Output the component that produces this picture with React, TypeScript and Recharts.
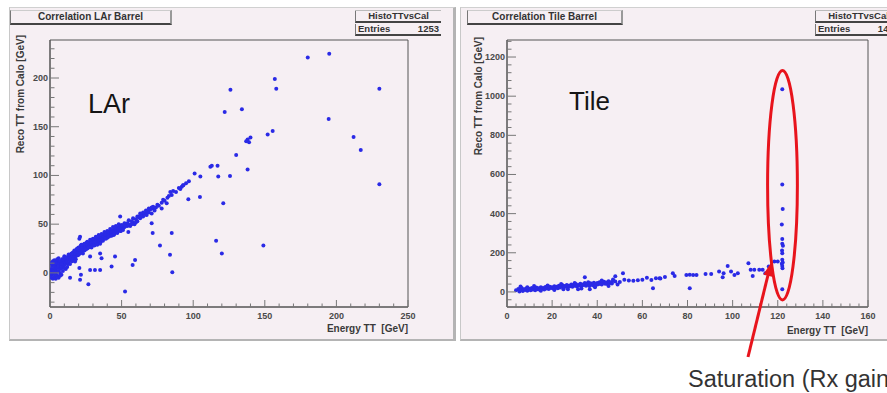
import React from 'react';
import { ScatterChart, Scatter, XAxis, YAxis, ReferenceArea, ReferenceDot } from 'recharts';

// LAr barrel: [Energy TT, Reco TT from Calo] in GeV
const larBand: [number, number][] = [
  [0.5, 1], [1, 4], [1, -2], [1, -5], [1.5, 7], [2, 0], [2, 3], [2, -6], [2.5, 9], [3, -4], [3, 2], [3, 5], [3, 13],
  [3.5, 11], [4, -1], [4, 3], [4, 7], [4, -6], [4.5, 1], [5, 5], [5, 9], [5, -3], [5.5, 12], [6, 2], [6, 6], [6, -5],
  [6.5, 9], [7, 4], [7, 0], [7.5, 8], [8, 11], [8, 5], [8, -2], [8.5, 14], [9, 7], [9, 2], [9.5, 10], [10, 12], [10, 8],
  [10.5, 15], [11, 10], [11, 4], [11.5, 13], [12, 16], [12, 11], [12.5, 9], [13, 14], [13.5, 17], [14, 13], [14, 16],
  [14.5, 19], [15, 15], [15.5, 12], [16, 18], [16, 21], [16.5, 16], [17, 19], [17.5, 22], [18, 17], [18, 20],
  [18.5, 24], [19, 21], [19.5, 18], [20, 23], [20, 26], [20.5, 21], [21, 24], [21.5, 28], [22, 22], [22, 25],
  [22.5, 27], [23, 24], [23.5, 29], [24, 26], [24, 23], [24.5, 28], [25, 27], [25.5, 31], [26, 25], [26, 29],
  [26.5, 27], [27, 30], [27.5, 28], [28, 31], [28, 27], [28.5, 33], [29, 30], [29.5, 28], [30, 32], [30, 29],
  [30.5, 34], [31, 31], [31.5, 33], [32, 30], [32, 35], [33, 32], [33.5, 34], [34, 31], [34, 36], [34.5, 33],
  [35, 35], [35.5, 32], [36, 37], [36, 34], [36.5, 36], [37, 38], [37.5, 35], [38, 37], [38, 40], [38.5, 36],
  [39, 39], [39.5, 41], [40, 38], [40, 36], [40.5, 40], [41, 42], [41.5, 39], [42, 41], [42, 38], [42.5, 43],
  [43, 40], [43.5, 42], [44, 44], [44, 41], [44.5, 39], [45, 43], [45.5, 45], [46, 42], [46, 44], [46.5, 46],
  [47, 43], [47.5, 45], [48, 47], [48, 44], [49, 46], [49.5, 43], [50, 45], [50.5, 48], [51, 46], [52, 47],
  [53, 49], [54, 51], [55, 50], [56, 48], [57, 53], [58, 52], [59, 50], [60, 55], [61, 53], [62, 57], [63, 56],
  [64, 59], [65, 58], [66, 61], [67, 60], [68, 63], [69, 62], [70, 65], [71, 61], [72, 66], [73, 64], [74, 67],
  [75, 70], [76, 69], [78, 72], [79, 75], [80, 74], [82, 77], [83, 79], [85, 80], [86, 84], [88, 83], [90, 87],
  [91, 86], [93, 90], [95, 92], [97, 94],
  // thicker part of the ribbon
  [1, 10], [2, 12], [3, -1], [4, 10], [5, 14], [6, 15], [7, -3], [7, 12], [8, 9], [9, 14], [10, 5], [10, 17],
  [11, 16], [12, 6], [13, 10], [13, 19], [14, 9], [15, 20], [16, 14], [17, 23], [18, 14], [19, 25], [20, 19],
  [21, 20], [22, 29], [23, 20], [24, 30], [25, 24], [26, 32], [27, 26], [28, 34], [29, 26], [30, 35], [31, 28],
  [32, 37], [33, 29], [34, 39], [35, 30], [36, 40], [37, 33], [38, 42], [39, 35], [40, 43], [41, 37], [42, 45],
  [43, 38], [44, 47], [45, 40], [46, 48], [47, 41], [48, 50], [49, 43], [50, 49], [51, 44], [52, 51], [54, 48],
  [55, 54], [57, 50], [58, 56], [60, 52], [61, 58], [63, 59], [65, 62], [67, 64], [69, 66], [71, 67],
];

const larOutliers: [number, number][] = [
  [180, 221], [195, 225], [126, 188], [157, 199], [158, 189], [230, 189], [122, 165], [134, 168], [194.6, 158],
  [212, 139.5], [217, 126], [230, 91], [155.5, 145.6], [152, 142], [138, 137], [140, 139], [139, 134], [137, 135],
  [130, 121], [112, 109], [113, 110], [117, 110], [105, 99], [117.5, 99], [125.7, 99.5], [138, 106], [101, 102],
  [104.7, 78], [96.6, 75.6], [121, 71.5], [116, 33], [120, 20], [149, 28], [92, 88.5], [93, 90], [84, 83],
  [81.5, 71.5], [78, 66], [72, 68], [67.5, 59.5], [63, 61], [71, 51], [85, 41], [71.7, 41], [76.8, 28],
  [83.8, 18.5], [85.4, 0.7], [59.4, 13.3], [57.7, 8], [45.4, 16.7], [43, 6.5], [52.4, -19], [35, 20], [36, 15],
  [35, 3], [31.4, 3], [28, 3], [26.8, -11.6], [21, -7], [21.6, -2], [20.5, 5], [14, -5], [17.5, 11.6], [21, 37],
  [20.5, 35], [28, 16.7], [54.7, 42], [52.4, 47.5], [49, 58], [50, 49],
];

// Tile barrel
const tileBand: [number, number][] = [
  [4, 8], [5, 15], [5.5, 2], [6, 12], [6.5, 20], [7, 5], [7.5, 14], [8, 10], [8.5, 18], [9, 6], [9.5, 13], [10, 16],
  [10.5, 9], [11, 20], [11.5, 12], [12, 17], [12.5, 8], [13, 22], [13.5, 14], [14, 19], [14.5, 11], [15, 24],
  [15.5, 16], [16, 20], [16.5, 13], [17, 25], [17.5, 18], [18, 22], [18.5, 15], [19, 27], [19.5, 20], [20, 24],
  [20.5, 17], [21, 29], [21.5, 21], [22, 26], [22.5, 19], [23, 31], [23.5, 23], [24, 28], [24.5, 35], [25, 22],
  [25.5, 30], [26, 26], [26.5, 36], [27, 24], [27.5, 32], [28, 29], [28.5, 38], [29, 27], [29.5, 34], [30, 31],
  [30.5, 40], [31, 28], [31.5, 36], [32, 33], [32.5, 42], [33, 30], [33.5, 38], [34, 35], [34.5, 45], [35, 32],
  [35.5, 40], [36, 37], [36.5, 30], [37, 44], [37.5, 39], [38, 34], [38.5, 47], [39, 41], [39.5, 36], [40, 45],
  [40.5, 39], [41, 50], [41.5, 43], [42, 38], [42.5, 47], [43, 52], [43.5, 42], [44, 48], [44.5, 40], [45, 54],
  [45.5, 46], [46, 50], [46.5, 43], [47, 57], [48, 53], [50, 51], [52, 62], [54, 59], [56, 57], [58, 60],
  [60, 62], [62, 72], [64, 61], [66, 70], [68, 69], [70, 76],
  [6, 28], [9, 24], [12, 30], [15, 6], [18, 33], [21, 10], [24, 40], [27, 14], [30, 46], [33, 18], [36, 50],
  [39, 24], [42, 58], [45, 30], [47, 64], [49, 38],
];

const tileOutliers: [number, number][] = [
  [34.5, 75], [51.4, 96], [48, 80], [64.7, 19], [36.7, 14], [31.5, 14], [25, 14], [67.6, 70], [73.5, 96],
  [74.3, 82], [79.5, 87], [81, 88], [82.5, 86], [84, 87], [81, 19], [88, 92], [90.5, 92], [94, 104], [96, 96],
  [97.8, 133], [99.3, 104], [100.8, 87], [102.3, 96], [95.6, 75], [107, 147], [108, 113], [109.6, 113],
  [111.8, 113], [113.3, 113], [114.5, 96], [108.9, 82], [116, 130], [118.5, 155], [120, 155],
];

const tileSaturation: [number, number][] = [
  [122, 1036], [122, 549], [122.2, 424], [121.8, 344], [122, 270], [122, 246], [122.3, 236], [121.9, 212],
  [122, 198], [122, 164], [122.2, 150], [121.8, 144], [122, 133], [122.1, 121], [122, 14],
];

const larXMajor = [0, 50, 100, 150, 200, 250];
const larYMajor = [0, 50, 100, 150, 200];
const tileXMajor = [0, 20, 40, 60, 80, 100, 120, 140, 160];
const tileYMajor = [0, 200, 400, 600, 800, 1000, 1200];

const larXDomain: [number, number] = [0, 250];
const larYDomain: [number, number] = [-35, 239];
const tileXDomain: [number, number] = [0, 160];
const tileYDomain: [number, number] = [-77, 1287];

// saturation ellipse (GeV)
const satCenter = { x: 122.1, y: 545 };
const satHalfW = 6.6;
const satHalfH = 586;

const PANEL = '#f6eff3';
const BLUE = '#2a2ae6';
const RED = '#e8141c';
const FONT = '"Liberation Sans", Arial, Helvetica, sans-serif';

const toPts = (arr: [number, number][]) => arr.map(([x, y]) => ({ x, y }));

// ROOT style: 5 subdivisions per major step, extended to the axis range
function withMinor(majors: number[], domain: [number, number]) {
  const step = (majors[1] - majors[0]) / 5;
  const out: number[] = [];
  let v = majors[0];
  while (v - step >= domain[0]) v -= step;
  for (; v <= domain[1] + 1e-6; v += step) out.push(Math.round(v * 1000) / 1000);
  return out;
}

const tickText = { fontSize: 9, fontWeight: 700, fill: '#4a4a4a', fontFamily: FONT };

const makeXTick = (majors: number[]) => (p: any) => {
  const major = majors.includes(p.payload.value);
  return (
    <g>
      <line x1={p.x} x2={p.x} y1={p.y} y2={p.y - (major ? 7 : 3.5)} stroke="#777" />
      {major && (
        <text x={p.x} y={p.y + 12} textAnchor="middle" {...tickText}>{p.payload.value}</text>
      )}
    </g>
  );
};

const makeYTick = (majors: number[]) => (p: any) => {
  const major = majors.includes(p.payload.value);
  return (
    <g>
      <line x1={p.x} x2={p.x + (major ? 9 : 4.5)} y1={p.y} y2={p.y} stroke="#777" />
      {major && (
        <text x={p.x - 2} y={p.y + 3} textAnchor="end" {...tickText}>{p.payload.value}</text>
      )}
    </g>
  );
};

const dot = (p: any) => <circle cx={p.cx} cy={p.cy} r={2} fill={BLUE} />;

const titleBox: React.CSSProperties = {
  position: 'absolute', height: 12, borderLeft: '1px solid #777', borderRight: '2px solid #999',
  borderTop: '1px solid #ccc', borderBottom: '2px solid #444', fontSize: 10, fontWeight: 700,
  color: '#333', textAlign: 'center', lineHeight: '12px', whiteSpace: 'nowrap', fontFamily: FONT,
};

const statRow: React.CSSProperties = {
  height: 10, borderLeft: '1px solid #777', borderBottom: '2px solid #444', fontSize: 9.5, fontWeight: 700,
  color: '#333', lineHeight: '10px', whiteSpace: 'nowrap', display: 'flex', padding: '0 2px', fontFamily: FONT,
};

function StatsBox({ left, name, entries }: { left: number; name: string; entries: string }) {
  return (
    <div style={{ position: 'absolute', left, top: 10, width: 86, borderTop: '1px solid #bbb' }}>
      <div style={{ ...statRow, justifyContent: 'center' }}>{name}</div>
      <div style={{ ...statRow, justifyContent: 'space-between', marginTop: 1 }}>
        <span>Entries</span><span>{entries}</span>
      </div>
    </div>
  );
}

export default function App() {
  const larData = toPts([...larBand, ...larOutliers]);
  const tileData = toPts([...tileBand, ...tileOutliers, ...tileSaturation]);

  // pixel size of the right plot for the ellipse radii
  const tilePlotW = 361;
  const tilePlotH = 267;
  const rx = (satHalfW * tilePlotW) / (tileXDomain[1] - tileXDomain[0]);
  const ry = (satHalfH * tilePlotH) / (tileYDomain[1] - tileYDomain[0]);

  return (
    <div style={{ position: 'absolute', left: 0, top: 0, width: 887, height: 393, background: '#fff', overflow: 'hidden', fontFamily: FONT }}>
      {/* panels */}
      <div style={{ position: 'absolute', left: 9, top: 7, width: 443, height: 331, background: PANEL, borderLeft: '1px solid #c8c8c8', borderTop: '1px solid #d0d0d0', borderRight: '3px solid #b4b4b4', borderBottom: '2px solid #b4b4b4' }} />
      <div style={{ position: 'absolute', left: 460, top: 7, width: 440, height: 331, background: PANEL, borderLeft: '1px solid #c8c8c8', borderTop: '1px solid #d0d0d0', borderBottom: '2px solid #b4b4b4' }} />

      {/* LAr */}
      <div style={{ position: 'absolute', left: 9, top: 7 }}>
        <ScatterChart width={446} height={333} margin={{ top: 33, right: 47, bottom: 13, left: 11 }}>
          <XAxis type="number" dataKey="x" domain={larXDomain} ticks={withMinor(larXMajor, larXDomain)} interval={0}
            tick={makeXTick(larXMajor)} tickLine={false} tickSize={0} tickMargin={0} height={20}
            axisLine={{ stroke: '#555' }} allowDataOverflow />
          <YAxis type="number" dataKey="y" domain={larYDomain} ticks={withMinor(larYMajor, larYDomain)} interval={0}
            tick={makeYTick(larYMajor)} tickLine={false} tickSize={0} tickMargin={0} width={30}
            axisLine={{ stroke: '#555' }} allowDataOverflow />
          <ReferenceArea x1={larXDomain[0]} x2={larXDomain[1]} y1={larYDomain[0]} y2={larYDomain[1]}
            fill="none" fillOpacity={0} stroke="#555" strokeWidth={1} />
          <Scatter data={larData} shape={dot} isAnimationActive={false} />
        </ScatterChart>
      </div>

      {/* Tile */}
      <div style={{ position: 'absolute', left: 460, top: 7 }}>
        <ScatterChart width={427} height={333} margin={{ top: 33, right: 19, bottom: 13, left: 17 }}>
          <XAxis type="number" dataKey="x" domain={tileXDomain} ticks={withMinor(tileXMajor, tileXDomain)} interval={0}
            tick={makeXTick(tileXMajor)} tickLine={false} tickSize={0} tickMargin={0} height={20}
            axisLine={{ stroke: '#555' }} allowDataOverflow />
          <YAxis type="number" dataKey="y" domain={tileYDomain} ticks={withMinor(tileYMajor, tileYDomain)} interval={0}
            tick={makeYTick(tileYMajor)} tickLine={false} tickSize={0} tickMargin={0} width={30}
            axisLine={{ stroke: '#555' }} allowDataOverflow />
          <ReferenceArea x1={tileXDomain[0]} x2={tileXDomain[1]} y1={tileYDomain[0]} y2={tileYDomain[1]}
            fill="none" fillOpacity={0} stroke="#555" strokeWidth={1} />
          <Scatter data={tileData} shape={dot} isAnimationActive={false} />
          <ReferenceDot x={satCenter.x} y={satCenter.y} ifOverflow="visible"
            shape={(p: any) => <ellipse cx={p.cx} cy={p.cy} rx={rx} ry={ry} fill="none" stroke={RED} strokeWidth={3} />} />
        </ScatterChart>
      </div>

      {/* title and stats boxes */}
      <div style={{ ...titleBox, left: 10, top: 10, width: 159 }}>Correlation LAr Barrel</div>
      <div style={{ ...titleBox, left: 467, top: 10, width: 153 }}>Correlation Tile Barrel</div>
      <StatsBox left={355} name="HistoTTvsCal" entries="1253" />
      <StatsBox left={815} name="HistoTTvsCal" entries="1453" />

      {/* texts and annotation */}
      <svg width={887} height={393} style={{ position: 'absolute', left: 0, top: 0, pointerEvents: 'none' }}>
        <g fontFamily={FONT}>
          <text x={88} y={113} fontSize={27} fill="#151515">LAr</text>
          <text x={569} y={110} fontSize={26} fill="#151515">Tile</text>
          <text transform="translate(23.5,35) rotate(-90)" textAnchor="end" fontSize={10} fontWeight={700} fill="#3a3a3a">Reco TT from Calo [GeV]</text>
          <text transform="translate(481.5,37) rotate(-90)" textAnchor="end" fontSize={10} fontWeight={700} fill="#3a3a3a">Reco TT from Calo [GeV]</text>
          <text x={408} y={332} textAnchor="end" fontSize={10} fontWeight={700} fill="#3a3a3a" xmlSpace="preserve">Energy TT  [GeV]</text>
          <text x={868} y={334} textAnchor="end" fontSize={10} fontWeight={700} fill="#3a3a3a" xmlSpace="preserve">Energy TT  [GeV]</text>
          <line x1={748} y1={357} x2={768.5} y2={273} stroke={RED} strokeWidth={3} />
          <polygon points="771.5,262 773,277 763.3,274.5" fill={RED} />
          <text x={688} y={387} fontSize={23.5} fill="#333">Saturation (Rx gain)</text>
        </g>
      </svg>
    </div>
  );
}
